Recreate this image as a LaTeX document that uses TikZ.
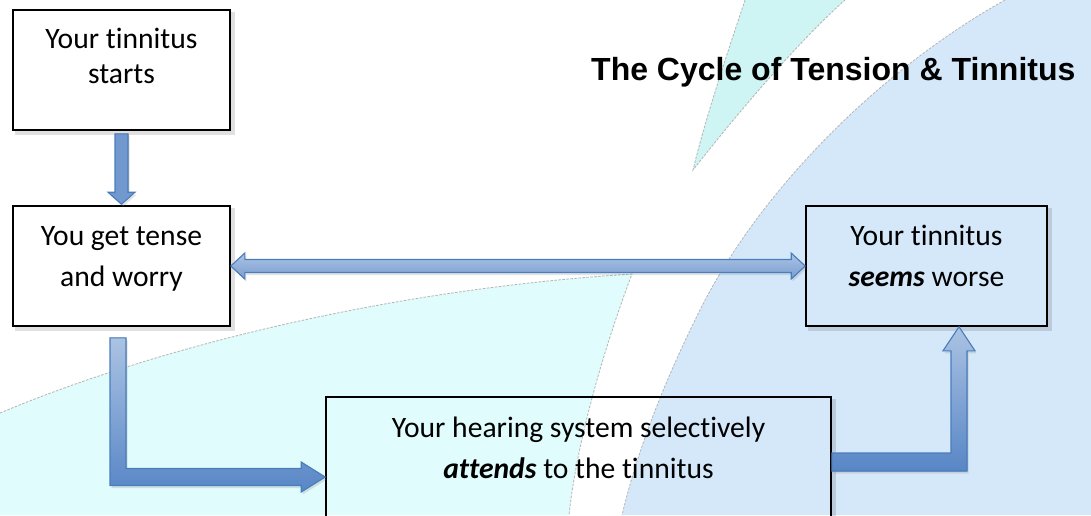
\documentclass[tikz,border=0pt]{standalone}
\usepackage{fontspec}
\setmainfont{Carlito}[Ligatures=NoCommon]
\newfontfamily\titlefont{Liberation Sans}
\usetikzlibrary{calc,shadows}
\definecolor{bgcyan}{HTML}{E0FCFD}
\definecolor{bgwedge}{HTML}{CEF4F4}
\definecolor{bgblue}{HTML}{D5E8FA}
\definecolor{edgegray}{HTML}{B4B4B4}
\definecolor{arrline}{HTML}{4A7EBB}
\definecolor{arrlight}{HTML}{ABC3E3}
\definecolor{arrdark}{HTML}{5886C6}
\tikzset{
  bgedge/.style={draw=edgegray, line width=0.8pt, dash pattern=on 2.5pt off 1.5pt},
  boxframe/.style={draw=black, line width=1.6pt, inner sep=0pt},
  boxshadow/.style={draw=black, opacity=0.12, line width=4pt},
  boxtext/.style={align=center, inner sep=0pt, font=\fontsize{29.6}{41}\selectfont},
  blockarrow/.style={draw=arrline, line width=1.1pt, line join=miter,
     drop shadow={opacity=0.22, shadow xshift=1.5pt, shadow yshift=-2.5pt}},
  vgrad/.style={top color=arrlight, bottom color=arrdark},
}
\begin{document}
\begin{tikzpicture}[x=1pt,y=1pt]
\useasboundingbox (0,0) rectangle (1091,-515);
\begin{scope}
\clip (0,0) rectangle (1091,-515);
% background
\fill[white] (0,0) rectangle (1091,-515);
\fill[bgcyan] (0,-413) .. controls (150,-350) and (380,-290) .. (632,-274)
   .. controls (605,-345) and (577,-440) .. (569,-515) -- (0,-515) -- cycle;
\draw[bgedge] (0,-413) .. controls (150,-350) and (380,-290) .. (632,-274)
   .. controls (605,-345) and (577,-440) .. (569,-515);
\fill[bgwedge] (745,0) .. controls (725,-60) and (705,-120) .. (693,-170)
   .. controls (740,-110) and (800,-40) .. (845,0) -- cycle;
\draw[bgedge] (745,0) .. controls (725,-60) and (705,-120) .. (693,-170)
   .. controls (740,-110) and (800,-40) .. (845,0);
\fill[bgblue] (1005,0) .. controls (880,-70) and (760,-190) .. (700,-310)
   .. controls (670,-370) and (640,-440) .. (622,-515) -- (1091,-515) -- (1091,0) -- cycle;
\draw[bgedge] (1005,0) .. controls (880,-70) and (760,-190) .. (700,-310)
   .. controls (670,-370) and (640,-440) .. (622,-515);

% title
\node[anchor=base west, inner sep=0pt, font=\titlefont\bfseries\fontsize{32}{38}\selectfont] (title) at (591,-80) {The Cycle of Tension \& Tinnitus};

% boxes
\node[boxframe, minimum width=217pt, minimum height=120pt] (b1) at (121.5,-70) {};
\node[boxframe, minimum width=217pt, minimum height=120pt] (b2) at (121.5,-266) {};
\node[boxframe, minimum width=241pt, minimum height=120pt] (b3) at (926.5,-266) {};
\node[boxframe, minimum width=505pt, minimum height=160pt] (b4) at (578.5,-477) {};
\foreach \b in {b1,b2,b3,b4}{
  \draw[boxshadow] ($(\b.south west)+(3,-2)$) -- ($(\b.south east)+(2,-2)$) -- ($(\b.north east)+(2,-3)$);
}

\node[boxtext, font=\fontsize{29.6}{35}\selectfont] (t1) at (121.5,-56) {Your tinnitus\\starts};
\node[boxtext] (t2) at (121.5,-258.5) {You get tense\\and worry};
\node[boxtext] (t3) at (926.5,-255.5) {Your tinnitus\\\textbf{\textit{seems}} worse};
\node[boxtext] (t4) at (578.5,-447.5) {Your hearing system selectively\\\textbf{\textit{attends}} to the tinnitus};

% arrow b1 -> b2
\filldraw[blockarrow, left color=arrdark!85, middle color=arrlight, right color=arrdark!85]
  let \p1=(b1.south), \p2=(b2.north) in
  (\x1-6.5,\y1-3) -- (\x1+6.5,\y1-3) -- (\x1+6.5,\y2+13) -- (\x1+13.5,\y2+13)
  -- (\x1,\y2+1) -- (\x1-13.5,\y2+13) -- (\x1-6.5,\y2+13) -- cycle;

% double arrow b2 <-> b3
\filldraw[blockarrow, top color=arrlight, bottom color=arrdark!80]
  let \p1=(b2.east), \p2=(b3.west) in
  (\x1,\y1) -- (\x1+14,\y1+13) -- (\x1+14,\y1+6.5) -- (\x2-14,\y1+6.5) -- (\x2-14,\y1+13)
  -- (\x2,\y1) -- (\x2-14,\y1-13) -- (\x2-14,\y1-6.5) -- (\x1+14,\y1-6.5) -- (\x1+14,\y1-13) -- cycle;

% L arrow b2 -> b4
\filldraw[blockarrow, vgrad]
  let \p1=(b2.south), \p2=(b4.west) in
  (\x1-11.5,\y1-11) -- (\x1+4.5,\y1-11) -- (\x1+4.5,\y2+8.5) -- (\x2-24,\y2+8.5)
  -- (\x2-24,\y2+15) -- (\x2,\y2) -- (\x2-24,\y2-15) -- (\x2-24,\y2-8.5)
  -- (\x1-11.5,\y2-8.5) -- cycle;

% L arrow b4 -> b3
\filldraw[blockarrow, vgrad]
  let \p1=(b4.east), \p2=(b3.south) in
  (\x1,-453) -- (\x2+24.5,-453) -- (\x2+24.5,\y2-24) -- (\x2+16.5,\y2-24)
  -- (\x2+32.5,\y2) -- (\x2+48.5,\y2-24) -- (\x2+40.5,\y2-24) -- (\x2+40.5,-471)
  -- (\x1,-471) -- cycle;
\end{scope}
\end{tikzpicture}
\end{document}
